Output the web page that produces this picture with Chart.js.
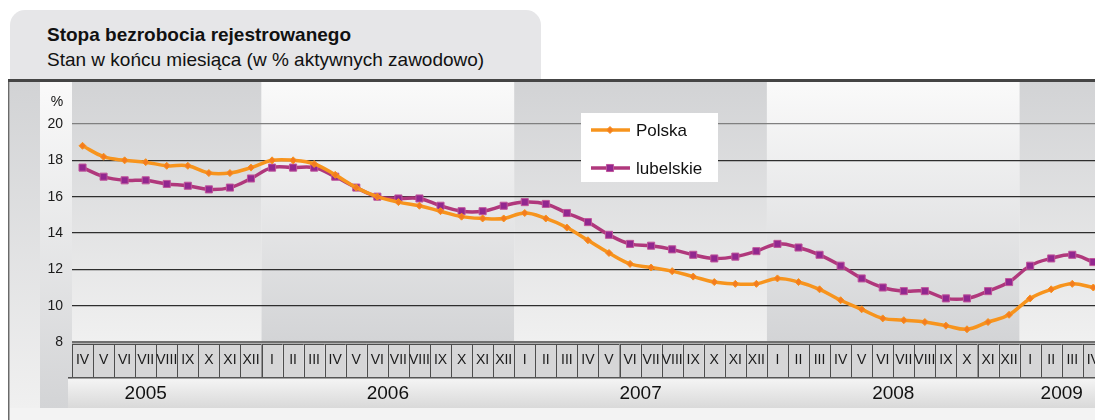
<!DOCTYPE html>
<html>
<head>
<meta charset="utf-8">
<script src="https://cdn.jsdelivr.net/npm/chart.js@4/dist/chart.umd.min.js"></script>
<style>
  body { margin: 0; background: #fff; overflow: hidden; font-family: 'Liberation Sans', Arial, sans-serif; }
  #tab { position: absolute; left: 10px; top: 10px; width: 531px; height: 72px; background: #e6e6e8; border-radius: 15px 15px 0 0; }
  #title { position: absolute; left: 37px; top: 14px; font-weight: bold; font-size: 19px; line-height: 22px; color: #111; }
  #subtitle { position: absolute; left: 37px; top: 39px; font-size: 19px; line-height: 22px; color: #111; }
  #wrap { position: absolute; left: 0; top: 0; width: 1110px; height: 420px; }
</style>
</head>
<body>
<div id="tab">
  <div id="title">Stopa bezrobocia rejestrowanego</div>
  <div id="subtitle">Stan w końcu miesiąca (w % aktywnych zawodowo)</div>
</div>
<div id="wrap"><canvas id="chart"></canvas></div>
<script>
// months IV 2005 - IV 2009
const months = [
  'IV','V','VI','VII','VIII','IX','X','XI','XII',
  'I','II','III','IV','V','VI','VII','VIII','IX','X','XI','XII',
  'I','II','III','IV','V','VI','VII','VIII','IX','X','XI','XII',
  'I','II','III','IV','V','VI','VII','VIII','IX','X','XI','XII',
  'I','II','III','IV'
];
const years = ['2005', '2006', '2007', '2008', '2009'];
const yearLabelAt = [3, 14.5, 26.5, 38.5, 46.5]; // category index under which the year is written

const polska = [
  18.8, 18.2, 18.0, 17.9, 17.7, 17.7, 17.3, 17.3, 17.6,
  18.0, 18.0, 17.8, 17.2, 16.5, 16.0, 15.7, 15.5, 15.2, 14.9, 14.8, 14.8,
  15.1, 14.8, 14.3, 13.6, 12.9, 12.3, 12.1, 11.9, 11.6, 11.3, 11.2, 11.2,
  11.5, 11.3, 10.9, 10.3, 9.8, 9.3, 9.2, 9.1, 8.9, 8.7, 9.1, 9.5,
  10.4, 10.9, 11.2, 11.0
];
const lubelskie = [
  17.6, 17.1, 16.9, 16.9, 16.7, 16.6, 16.4, 16.5, 17.0,
  17.6, 17.6, 17.6, 17.1, 16.5, 16.0, 15.9, 15.9, 15.5, 15.2, 15.2, 15.5,
  15.7, 15.6, 15.1, 14.6, 13.9, 13.4, 13.3, 13.1, 12.8, 12.6, 12.7, 13.0,
  13.4, 13.2, 12.8, 12.2, 11.5, 11.0, 10.8, 10.8, 10.4, 10.4, 10.8, 11.3,
  12.2, 12.6, 12.8, 12.4
];
const yTicks = [8, 10, 12, 14, 16, 18, 20];

const FONT = "'Liberation Sans', Arial, sans-serif";

// backgrounds, month cells, year row
const frame = {
  id: 'frame',
  beforeDraw(chart) {
    const { ctx, chartArea: a, scales: { x } } = chart;
    const cw = x.getPixelForValue(1) - x.getPixelForValue(0);
    const W = chart.width;
    ctx.save();
    ctx.fillStyle = '#f3f3f3';
    ctx.fillRect(9, 80, W, 340);

    const band = (x0, x1, darkTop, y0, y1) => {
      const g = ctx.createLinearGradient(0, y0, 0, y1);
      g.addColorStop(0, darkTop ? '#d2d3d5' : '#fafafa');
      g.addColorStop(1, darkTop ? '#f0f0f0' : '#d3d4d6');
      ctx.fillStyle = g;
      ctx.fillRect(x0, y0, x1 - x0, y1 - y0);
    };
    band(10, 40, true, 82, 408);
    band(40, a.left, false, 82, 408);

    // one shaded band per year, alternating
    let first = 0, k = 0;
    months.forEach((m, i) => {
      const last = i === months.length - 1 || months[i + 1] === 'I';
      if (last) {
        const x0 = x.getPixelForValue(first) - cw / 2;
        const x1 = x.getPixelForValue(i) + cw / 2;
        band(x0, x1, k % 2 === 0, 82, a.bottom);
        first = i + 1;
        k++;
      }
    });

    // month cells
    months.forEach((m, i) => {
      const cx = x.getPixelForValue(i);
      ctx.fillStyle = '#d6d6d7';
      ctx.fillRect(cx - cw / 2, 344, cw, 34);
      ctx.strokeStyle = '#4d4d4d';
      ctx.lineWidth = 1;
      ctx.strokeRect(Math.round(cx - cw / 2) + 0.5, 344.5, cw, 33);
    });
    ctx.fillStyle = '#555';
    ctx.fillRect(a.left - 4, 377, W, 1.5);

    // year row
    const g = ctx.createLinearGradient(0, 379, 0, 408);
    g.addColorStop(0, '#f4f4f4');
    g.addColorStop(1, '#d9d9d9');
    ctx.fillStyle = g;
    ctx.fillRect(a.left - 4, 379, W, 29);

    // frame lines
    ctx.fillStyle = '#6a6a6a';
    ctx.fillRect(8, 80, 1.5, 340);
    ctx.fillStyle = '#454545';
    ctx.fillRect(8, 79, W, 3);
    ctx.restore();
  },
  afterDraw(chart) {
    const { ctx, scales: { x } } = chart;
    ctx.save();
    ctx.fillStyle = '#111';
    ctx.textBaseline = 'middle';
    ctx.textAlign = 'center';
    ctx.font = '19px ' + FONT;
    years.forEach((yr, k) => {
      const p = x.getPixelForValue(Math.floor(yearLabelAt[k])) +
        (yearLabelAt[k] % 1) * (x.getPixelForValue(1) - x.getPixelForValue(0));
      ctx.fillText(yr, p, 394);
    });
    ctx.font = '14px ' + FONT;
    ctx.fillText('%', 57, 102);

    // legend box
    ctx.fillStyle = '#fff';
    ctx.fillRect(581, 113, 137, 69);
    chart.data.datasets.forEach((ds, i) => {
      const ly = 130 + i * 38;
      ctx.strokeStyle = ds.borderColor;
      ctx.lineWidth = 3.5;
      ctx.beginPath();
      ctx.moveTo(591, ly);
      ctx.lineTo(630, ly);
      ctx.stroke();
      ctx.fillStyle = ds.pointBackgroundColor;
      ctx.strokeStyle = ds.pointBorderColor;
      ctx.lineWidth = ds.pointBorderWidth;
      Chart.helpers.drawPoint(ctx, { pointStyle: ds.pointStyle, radius: ds.pointRadius, rotation: 0, borderWidth: ds.pointBorderWidth }, 610, ly);
      ctx.fillStyle = '#111';
      ctx.textAlign = 'left';
      ctx.font = '17px ' + FONT;
      ctx.fillText(ds.label, 636, ly + 1);
    });
    ctx.restore();
  }
};

new Chart(document.getElementById('chart'), {
  type: 'line',
  data: {
    labels: months,
    datasets: [{
      label: 'Polska',
      data: polska,
      borderColor: '#f7941d',
      borderWidth: 3.5,
      tension: 0.4,
      pointStyle: 'rectRot',
      pointRadius: 3.5,
      pointBackgroundColor: '#f47c20',
      pointBorderColor: '#f7941d',
      pointBorderWidth: 1
    }, {
      label: 'lubelskie',
      data: lubelskie,
      borderColor: '#b0387c',
      borderWidth: 3.5,
      tension: 0.4,
      pointStyle: 'rect',
      pointRadius: 5,
      pointBackgroundColor: '#92278f',
      pointBorderColor: '#c0559b',
      pointBorderWidth: 1
    }]
  },
  options: {
    responsive: true,
    maintainAspectRatio: false,
    animation: false,
    devicePixelRatio: 1,
    layout: { padding: { left: 0, top: 124, right: 4, bottom: 0 } },
    plugins: {
      legend: { display: false },
      tooltip: { enabled: false }
    },
    scales: {
      x: {
        offset: true,
        grid: { display: false, drawTicks: false },
        border: { display: false },
        ticks: {
          autoSkip: false,
          maxRotation: 0,
          padding: 10,
          color: '#1a1a1a',
          font: { family: FONT, size: 14 }
        },
        afterFit: (s) => { s.height = 78; }
      },
      y: {
        min: 8,
        max: 20,
        afterBuildTicks: (s) => { s.ticks = yTicks.map(v => ({ value: v })); },
        grid: {
          drawTicks: false,
          color: (c) => c.tick.value === 20 ? '#808080' : c.tick.value === 8 ? '#707070' : '#2e2e2e',
          lineWidth: (c) => c.tick.value === 8 ? 2.5 : 1.3
        },
        border: { display: false },
        ticks: {
          padding: 9,
          color: '#1a1a1a',
          font: { family: FONT, size: 14 }
        },
        afterFit: (s) => { s.width = 72; }
      }
    }
  },
  plugins: [frame]
});
</script>
</body>
</html>
